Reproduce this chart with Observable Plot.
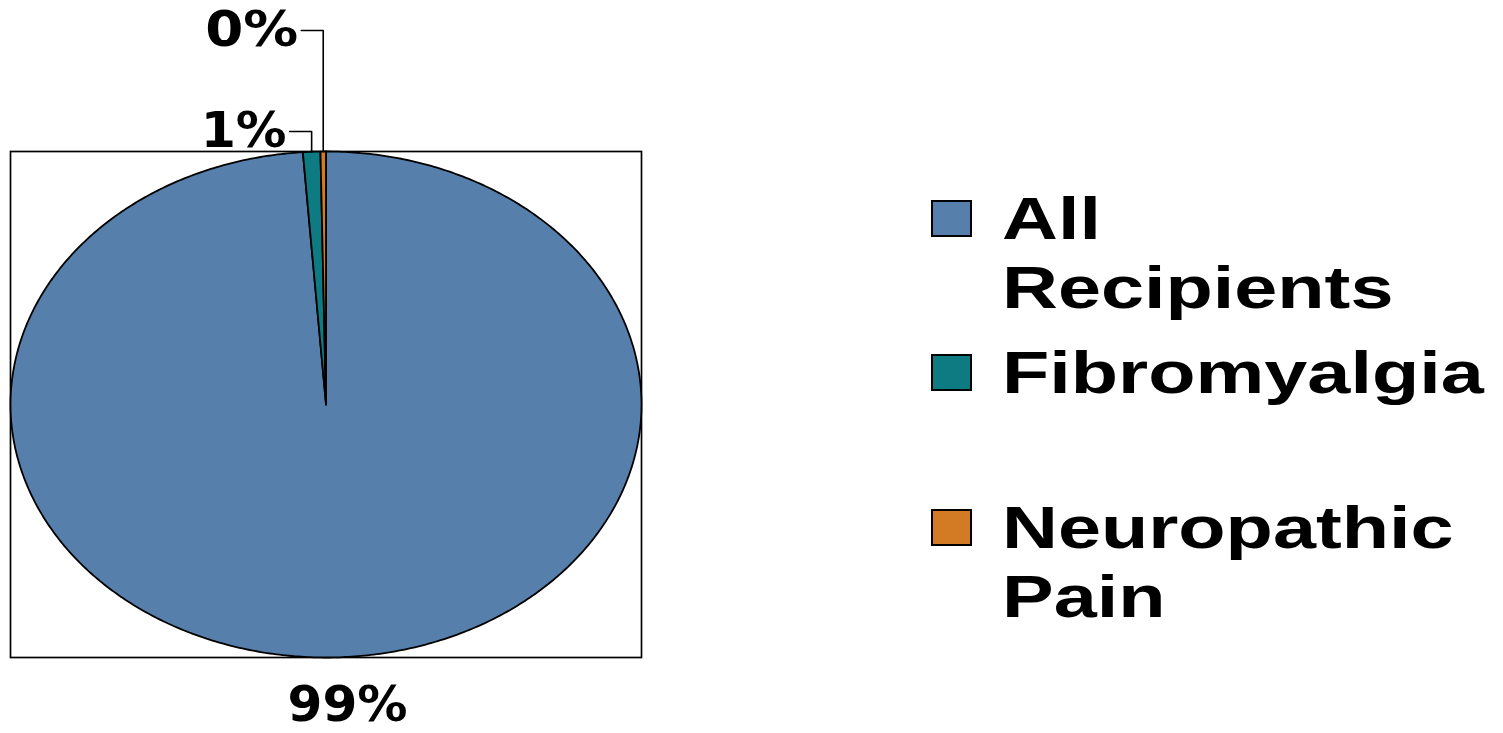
<!DOCTYPE html>
<html>
<head>
<meta charset="utf-8">
<script src="https://cdn.jsdelivr.net/npm/d3@7"></script>
<script src="https://cdn.jsdelivr.net/npm/@observablehq/plot@0.6"></script>
<style>
  html, body { margin: 0; padding: 0; background: #fff; }
  body { width: 1503px; height: 733px; position: relative; overflow: hidden; font-family: "Liberation Sans", Arial, sans-serif; }
  #chart { position: absolute; left: 0; top: 0; }
  #legend { position: absolute; left: 931px; top: 183.7px; }
  .item { position: relative; height: 154.5px; }
  .swatch { position: absolute; left: 0; top: 16.3px; width: 37px; height: 33px; border: 2px solid #000; }
  .label { position: absolute; left: 71px; top: 0; font-size: 60px; font-weight: bold; line-height: 69px; color: #000; white-space: nowrap; }
  .label span { display: block; transform: scaleX(1.29); transform-origin: 0 0; }
</style>
</head>
<body>
<div id="chart"></div>
<div id="legend"></div>
<script>
// ---- data ----
const categories = ["All Recipients", "Fibromyalgia", "Neuropathic Pain"];
const legendLines = [["All", "Recipients"], ["Fibromyalgia"], ["Neuropathic", "Pain"]];
const values = [98.83, 0.89, 0.28];
const valueLabels = ["99%", "1%", "0%"];
const colors = ["#5680AB", "#0E7A81", "#D37A25"];

// ---- layout (pixels) ----
const W = 660, H = 733, mL = 10, mR = 19, mT = 151, mB = 76;
const pxX = (W - mL - mR) / 2, pxY = (H - mT - mB) / 2;
// label placement: lift above/below the ellipse edge, horizontal run of the leader
const labelLift = {"All Recipients": -48, "Fibromyalgia": 20, "Neuropathic Pain": 121};
const labelRun = {"All Recipients": 0, "Fibromyalgia": 22, "Neuropathic Pain": 22};
const labelWidth = {"99%": 120, "1%": 86, "0%": 93};

// ---- geometry from data ----
const arcs = d3.pie().sort(null).startAngle(0).endAngle(2 * Math.PI)(values);
const slicePts = [];
arcs.forEach((a, i) => {
  const name = categories[i];
  slicePts.push({name, x: 0, y: 0});
  const n = Math.max(2, Math.ceil((a.endAngle - a.startAngle) / 0.01));
  for (let k = 0; k <= n; k++) {
    const t = a.startAngle + (a.endAngle - a.startAngle) * k / n;
    slicePts.push({name, x: Math.sin(t), y: Math.cos(t)});
  }
  slicePts.push({name, x: 0, y: 0});
});

const leaders = [];
const labels = [];
arcs.forEach((a, i) => {
  const name = categories[i];
  const mid = (a.startAngle + a.endAngle) / 2;
  const ax = Math.sin(mid), ay = Math.cos(mid);
  const lift = labelLift[name] / pxY;
  if (labelRun[name] > 0) {
    const ly = 1 + lift;
    const ex = ax - labelRun[name] / pxX;
    leaders.push({name, x: ax, y: ay}, {name, x: ax, y: ly}, {name, x: ex, y: ly});
    labels.push({text: valueLabels[i], x: ex, y: ly, anchor: "end"});
  } else {
    labels.push({text: valueLabels[i], x: ax, y: -1 + lift, anchor: "middle"});
  }
});

const labelFont = "'DejaVu Sans', 'Liberation Sans', Arial, sans-serif";
const plot = Plot.plot({
  width: W, height: H,
  marginLeft: mL, marginRight: mR, marginTop: mT, marginBottom: mB,
  x: {domain: [-1, 1], axis: null},
  y: {domain: [-1, 1], axis: null},
  color: {domain: categories, range: colors},
  style: {fontFamily: "'Liberation Sans', Arial, sans-serif", background: "#fff", overflow: "visible"},
  marks: [
    Plot.frame({stroke: "#000", strokeWidth: 1.7}),
    Plot.line(slicePts, {x: "x", y: "y", z: "name", fill: "name", stroke: "#000", strokeWidth: 1.8, strokeLinejoin: "round", curve: "linear"}),
    Plot.line(leaders, {x: "x", y: "y", z: "name", stroke: "#000", strokeWidth: 1.6, clip: false}),
    Plot.text(labels.filter(d => d.anchor === "end"), {x: "x", y: "y", text: "text", textAnchor: "end", dx: -3, fontSize: 49, fontWeight: "bold", fontFamily: labelFont, fill: "#000", lineAnchor: "middle", clip: false}),
    Plot.text(labels.filter(d => d.anchor === "middle"), {x: "x", y: "y", text: "text", textAnchor: "middle", dx: 10, fontSize: 49, fontWeight: "bold", fontFamily: labelFont, fill: "#000", lineAnchor: "middle", clip: false})
  ]
});
document.getElementById("chart").appendChild(plot);

// stretch label glyphs horizontally to match the reference proportions
d3.select(plot).selectAll("text").each(function() {
  const t = this.textContent;
  if (labelWidth[t]) {
    this.setAttribute("textLength", labelWidth[t]);
    this.setAttribute("lengthAdjust", "spacingAndGlyphs");
  }
});

// legend
const legend = d3.select("#legend");
categories.forEach((c, i) => {
  const item = legend.append("div").attr("class", "item");
  item.append("div").attr("class", "swatch").style("background", colors[i]);
  const lab = item.append("div").attr("class", "label");
  legendLines[i].forEach(line => lab.append("span").text(line));
});
</script>
</body>
</html>
